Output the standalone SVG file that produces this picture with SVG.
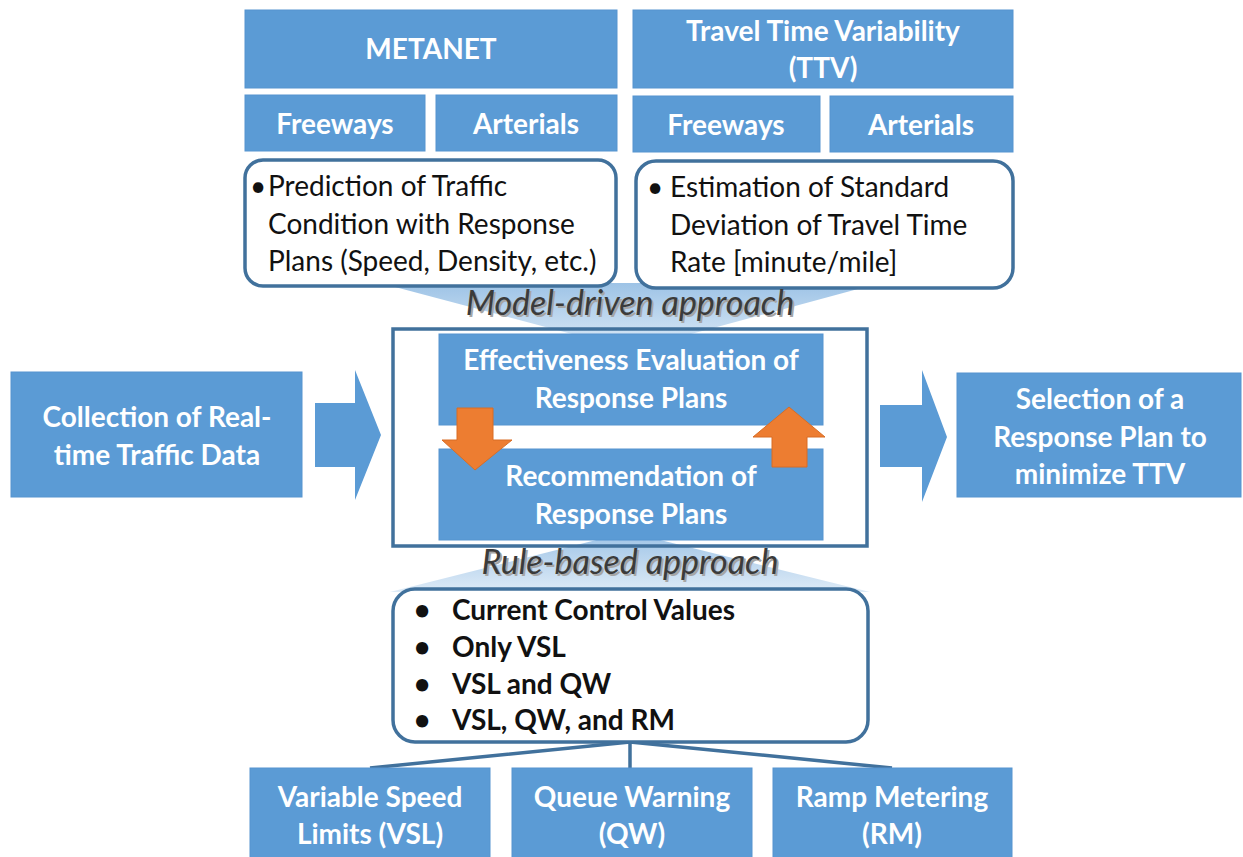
<svg xmlns="http://www.w3.org/2000/svg" width="1243" height="857" viewBox="0 0 1243 857">
<style>
.box{fill:#5b9bd5;stroke:#5694cf;stroke-width:1}
.rbox{fill:#fff;stroke:#41719c;stroke-width:3.5}
.wt{font-family:Lato,"Liberation Sans",sans-serif;font-weight:bold;font-size:28px;fill:#fff;text-anchor:middle}
.bt{font-family:Lato,"Liberation Sans",sans-serif;font-size:28px;fill:#111}
.bb{font-family:Lato,"Liberation Sans",sans-serif;font-weight:bold;font-size:28px;fill:#111}
.it{font-family:Lato,"Liberation Sans",sans-serif;font-style:italic;font-size:34px;text-anchor:middle}
.conn{stroke:#41719c;stroke-width:3.5;fill:none}
.orange{fill:#ed7d31;stroke:#d86d25;stroke-width:1}
</style>
<defs>
<linearGradient id="gdown" x1="0" y1="0" x2="0" y2="1">
<stop offset="0" stop-color="#9dc3e6"/>
<stop offset="1" stop-color="#deebf7"/>
</linearGradient>
<linearGradient id="gup" x1="0" y1="1" x2="0" y2="0">
<stop offset="0" stop-color="#deebf7"/>
<stop offset="1" stop-color="#9dc3e6"/>
</linearGradient>
</defs>

<!-- wedges -->
<polygon points="380,283 880,283 632,350" fill="url(#gdown)"/>
<polygon points="390,592 870,592 628,532" fill="url(#gup)"/>

<g id="metanet"><rect class="box" x="245" y="10" width="372" height="78"/><text class="wt" x="431" y="59">METANET</text></g>
<g id="ttv"><rect class="box" x="633" y="10" width="380" height="78"/><text class="wt" x="823" y="41">Travel Time Variability</text><text class="wt" x="823" y="78">(TTV)</text></g>
<g id="freeways-left"><rect class="box" x="245" y="95" width="180" height="56"/><text class="wt" x="335" y="134">Freeways</text></g>
<g id="arterials-left"><rect class="box" x="436" y="95" width="181" height="56"/><text class="wt" x="526" y="134">Arterials</text></g>
<g id="freeways-right"><rect class="box" x="633" y="96" width="187" height="56"/><text class="wt" x="726" y="135">Freeways</text></g>
<g id="arterials-right"><rect class="box" x="830" y="96" width="183" height="56"/><text class="wt" x="921" y="135">Arterials</text></g>

<g id="prediction">
<rect class="rbox" x="245" y="160" width="371" height="126" rx="18"/>
<text class="bt" x="250" y="196">•</text>
<text class="bt" x="268" y="196">Prediction of Traffic</text>
<text class="bt" x="268" y="234">Condition with Response</text>
<text class="bt" x="268" y="271">Plans (Speed, Density, etc.)</text>
</g>
<g id="estimation">
<rect class="rbox" x="636" y="161" width="377" height="127" rx="20"/>
<text class="bt" x="647" y="197">•</text>
<text class="bt" x="670" y="197">Estimation of Standard</text>
<text class="bt" x="670" y="235">Deviation of Travel Time</text>
<text class="bt" x="670" y="272">Rate [minute/mile]</text>
</g>

<g id="model-driven-label">
<text class="it" x="632" y="317" fill="#a6a6a6">Model-driven approach</text>
<text class="it" x="630" y="315" fill="#3b3b3b">Model-driven approach</text>
</g>

<g id="center-frame"><rect x="393" y="329" width="474" height="217" fill="none" stroke="#41719c" stroke-width="3.5"/></g>
<g id="effectiveness"><rect class="box" x="439" y="334" width="384" height="91"/><text class="wt" x="631" y="370">Effectiveness Evaluation of</text><text class="wt" x="631" y="408">Response Plans</text></g>
<g id="recommendation"><rect class="box" x="439" y="449" width="384" height="91"/><text class="wt" x="631" y="486">Recommendation of</text><text class="wt" x="631" y="524">Response Plans</text></g>

<g id="collection"><rect class="box" x="11" y="372" width="291" height="125"/><text class="wt" x="157" y="427">Collection of Real-</text><text class="wt" x="157" y="465">time Traffic Data</text></g>
<g id="selection"><rect class="box" x="957" y="373" width="284" height="124"/><text class="wt" x="1100" y="409">Selection of a</text><text class="wt" x="1100" y="447">Response Plan to</text><text class="wt" x="1100" y="484">minimize TTV</text></g>

<g id="connectors">
<polygon fill="#5b9bd5" points="315,403 355,403 355,370 381,435 355,500 355,467 315,467"/>
<polygon fill="#5b9bd5" points="880,405 922,405 922,370 947,437 922,502 922,467 880,467"/>
<polygon class="orange" points="457,408 493,408 493,440 512,440 475,470 442,440 457,440"/>
<polygon class="orange" points="772,467 807,467 807,437 825,437 789,407 753,437 772,437"/>
<path class="conn" d="M630,742 L370,768 M630,742 L630,768 M630,742 L892,768"/>
</g>

<g id="rule-based-label">
<text class="it" x="632" y="576" fill="#a6a6a6">Rule-based approach</text>
<text class="it" x="630" y="574" fill="#3b3b3b">Rule-based approach</text>
</g>

<g id="rules">
<rect class="rbox" x="393" y="589" width="475" height="153" rx="22"/>
<text class="bb" x="414" y="620">•</text><text class="bb" x="452" y="620">Current Control Values</text>
<text class="bb" x="414" y="657">•</text><text class="bb" x="452" y="657">Only VSL</text>
<text class="bb" x="414" y="694">•</text><text class="bb" x="452" y="694">VSL and QW</text>
<text class="bb" x="414" y="730">•</text><text class="bb" x="452" y="730">VSL, QW, and RM</text>
</g>

<g id="vsl"><rect class="box" x="250" y="768" width="240" height="92"/><text class="wt" x="370" y="807">Variable Speed</text><text class="wt" x="370" y="844">Limits (VSL)</text></g>
<g id="qw"><rect class="box" x="512" y="768" width="240" height="92"/><text class="wt" x="632" y="807">Queue Warning</text><text class="wt" x="632" y="844">(QW)</text></g>
<g id="rm"><rect class="box" x="773" y="768" width="239" height="92"/><text class="wt" x="892" y="807">Ramp Metering</text><text class="wt" x="892" y="844">(RM)</text></g>
</svg>
